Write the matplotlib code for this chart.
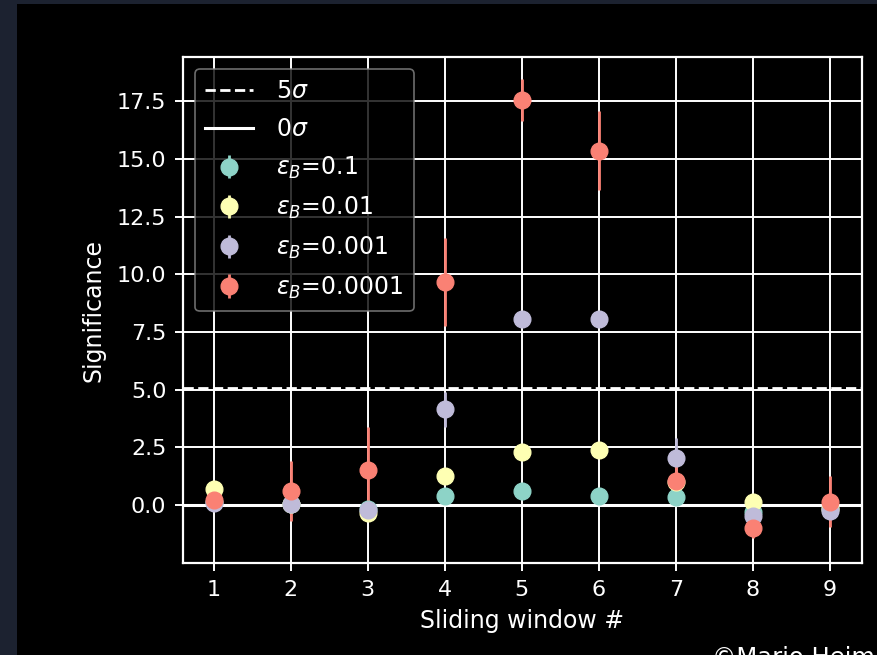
import matplotlib
matplotlib.use("Agg")
import matplotlib.pyplot as plt
from matplotlib.patches import Rectangle

# ---- data ----
windows = [1, 2, 3, 4, 5, 6, 7, 8, 9]
labels = [r"$\epsilon_B$=0.1", r"$\epsilon_B$=0.01", r"$\epsilon_B$=0.001", r"$\epsilon_B$=0.0001"]
sig_01 = [0.15, 0.05, -0.15, 0.39, 0.60, 0.39, 0.36, -0.30, -0.12]
err_01 = [0.10, 0.10, 0.10, 0.15, 0.15, 0.15, 0.15, 0.15, 0.10]
sig_001 = [0.68, 0.05, -0.35, 1.27, 2.30, 2.37, 1.00, 0.12, -0.15]
err_001 = [0.10, 0.10, 0.15, 0.20, 0.20, 0.20, 0.20, 0.15, 0.10]
sig_0001 = [0.10, 0.05, -0.20, 4.15, 8.04, 8.04, 2.02, -0.46, -0.25]
err_0001 = [0.20, 0.30, 0.40, 0.75, 0.30, 0.30, 0.90, 0.30, 0.30]
sig_00001 = [0.22, 0.62, 1.50, 9.65, 17.55, 15.35, 1.04, -0.98, 0.14]
err_00001 = [0.30, 1.30, 1.90, 1.90, 0.90, 1.70, 1.00, 0.45, 1.10]

series = [(sig_01, err_01), (sig_001, err_001), (sig_0001, err_0001), (sig_00001, err_00001)]

plt.style.use("dark_background")
plt.rcParams["font.family"] = ["DejaVu Sans"]
plt.rcParams["font.size"] = 15
plt.rcParams["mathtext.fontset"] = "dejavusans"

W, H = 877, 655
border = "#1c2230"
fig = plt.figure(figsize=(W / 100, H / 100), dpi=100)
fig.patch.set_facecolor("black")
fig.add_artist(Rectangle((0, 0), 17 / W, 1, transform=fig.transFigure,
                         facecolor=border, edgecolor="none"))
fig.add_artist(Rectangle((0, 1 - 4 / H), 1, 4 / H, transform=fig.transFigure,
                         facecolor=border, edgecolor="none"))

ax = fig.add_axes([183 / W, 1 - 563 / H, (862 - 183) / W, (563 - 57) / H])
ax.set_facecolor("black")

ax.axhline(5.05, color="white", linestyle="--", linewidth=2.0, label=r"5$\sigma$", zorder=2)
ax.axhline(0, color="white", linestyle="-", linewidth=2.2, label=r"0$\sigma$", zorder=2)

for (s, e), lab in zip(series, labels):
    ax.errorbar(windows, s, yerr=e, fmt="o", markersize=12, elinewidth=2.0,
                label=lab, zorder=3)

ax.set_xlim(0.6, 9.42)
ax.set_ylim(-2.51, 19.41)
ax.set_xticks(windows)
ax.set_yticks([0.0, 2.5, 5.0, 7.5, 10.0, 12.5, 15.0, 17.5])
ax.set_yticklabels(["0.0", "2.5", "5.0", "7.5", "10.0", "12.5", "15.0", "17.5"])
ax.grid(True, color="white", linewidth=1.4)
ax.set_axisbelow(True)
for sp in ax.spines.values():
    sp.set_linewidth(1.6)
    sp.set_color("white")
ax.tick_params(width=1.4, length=6, labelsize=16, colors="white", pad=6)

ax.set_xlabel("Sliding window #", fontsize=17, labelpad=7)
ax.set_ylabel("Significance", fontsize=17, labelpad=8)

leg = ax.legend(loc="upper left", fontsize=17, framealpha=0.8, edgecolor="#888888",
                handlelength=2.0, borderpad=0.45, labelspacing=0.58,
                handletextpad=1.0, borderaxespad=0.5)
leg.get_frame().set_linewidth(1.2)

fig.text(712 / W, 1 - 646 / H, "©Mario Heim", fontsize=17.5, color="white", va="top", ha="left")

fig.savefig("out.png", dpi=100, facecolor=fig.get_facecolor())
